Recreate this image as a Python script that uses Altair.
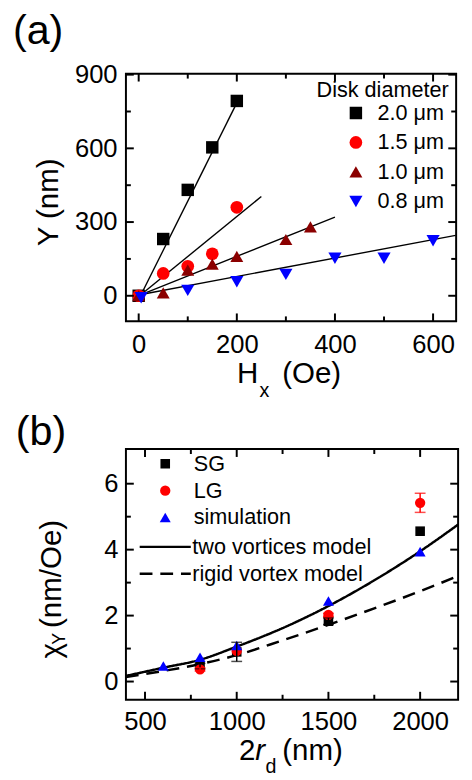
import altair as alt
import pandas as pd

FONT = "Liberation Sans"

# ---------------- panel (a) data ----------------
a_series = ["2.0 μm", "1.5 μm", "1.0 μm", "0.8 μm"]
a_colors = ["#000000", "#ff0000", "#8b0000", "#0000ff"]
a_shapes = ["square", "circle", "triangle-up", "triangle-down"]
a_msize = [160, 180, 230, 210]

a_hx_20 = [0, 50, 100, 150, 200]
a_y_20 = [0, 231, 431, 604, 793]
a_hx_15 = [0, 50, 100, 150, 200]
a_y_15 = [0, 91, 120, 171, 360]
a_hx_10 = [0, 50, 100, 150, 200, 300, 350]
a_y_10 = [0, 12, 104, 129, 160, 229, 280]
a_hx_08 = [5, 100, 200, 300, 400, 500, 600]
a_y_08 = [-8, 22, 57, 87, 153, 153, 224]

fit_x0 = [5, 5, 5, 5]
fit_y0 = [5, 5, 5, 5]
fit_x1 = [200, 250, 400, 646]
fit_y1 = [785, 404, 320, 246]

a_x_major = [0, 200, 400, 600]
a_x_minor = [100, 300, 500]
a_y_major = [0, 300, 600, 900]
a_y_minor = [150, 450, 750]

# ---------------- panel (b) data ----------------
b_series = ["SG", "LG", "simulation"]
b_colors = ["#000000", "#ff0000", "#0000ff"]
b_shapes = ["square", "circle", "triangle-up"]
b_msize = [95, 125, 190]

sg_d = [800, 1000, 1500, 2000]
sg_chi = [0.47, 0.90, 1.83, 4.56]
sg_err = [0.08, 0.29, 0.10, 0.0]
lg_d = [800, 1000, 1500, 2000]
lg_chi = [0.37, 0.93, 2.02, 5.42]
lg_err = [0.05, 0.0, 0.05, 0.29]
sim_d = [600, 800, 1000, 1500, 2000]
sim_chi = [0.47, 0.74, 1.09, 2.44, 3.94]

model_names = ["two vortices model", "rigid vortex model"]
model_d = [396, 600, 800, 1000, 1250, 1500, 1750, 2000, 2207]
two_vortices = [0.17, 0.42, 0.66, 1.06, 1.62, 2.29, 3.07, 3.95, 4.76]
rigid_vortex = [0.14, 0.32, 0.53, 0.80, 1.25, 1.72, 2.22, 2.74, 3.20]

b_x_major = [500, 1000, 1500, 2000]
b_x_minor = [750, 1250, 1750]
b_y_major = [0, 2, 4, 6]
b_y_minor = [1, 3, 5]

# ---------------- geometry ----------------
WA, HA = 336, 252
WB, HB = 338, 255


def axis(vals, pad):
    return alt.Axis(values=vals, title=None, labelFontSize=26, labelPadding=pad,
                    tickSize=0, tickWidth=0, domain=False, grid=False, format="d",
                    labelColor="black", labelFont=FONT)


def frame_ticks(xmaj, xmin, ymaj, ymin, sx, sy, axx, axy, W, H, L=8, l=5):
    layers = []
    for vals, ln in ((xmaj, L), (xmin, l)):
        base = alt.Chart(pd.DataFrame({"v": vals}))
        ex = alt.X("v:Q", scale=sx, axis=axx)
        layers.append(base.mark_rule(color="black", strokeWidth=2).encode(
            x=ex, y=alt.value(H), y2=alt.value(H - ln)))
        layers.append(base.mark_rule(color="black", strokeWidth=2).encode(
            x=ex, y=alt.value(0), y2=alt.value(ln)))
    for vals, ln in ((ymaj, L), (ymin, l)):
        base = alt.Chart(pd.DataFrame({"v": vals}))
        ey = alt.Y("v:Q", scale=sy, axis=axy)
        layers.append(base.mark_rule(color="black", strokeWidth=2).encode(
            y=ey, x=alt.value(0), x2=alt.value(ln)))
        layers.append(base.mark_rule(color="black", strokeWidth=2).encode(
            y=ey, x=alt.value(W), x2=alt.value(W - ln)))
    return layers


def label(text, x, y, size, angle=0, align="left", baseline="alphabetic", style="normal"):
    return alt.Chart(pd.DataFrame({"t": [text]})).mark_text(
        align=align, baseline=baseline, fontSize=size, font=FONT, angle=angle,
        fontStyle=style, color="black").encode(
        text="t:N", x=alt.value(x), y=alt.value(y))


# ---------------- panel (a) ----------------
sx_a = alt.Scale(domain=[-26, 647], nice=False, zero=False)
sy_a = alt.Scale(domain=[-104, 904], nice=False, zero=False)
ax_xa = axis(a_x_major, 11)
ax_ya = axis(a_y_major, 9)

rows = []
for name, xs, ys in zip(a_series, [a_hx_20, a_hx_15, a_hx_10, a_hx_08],
                        [a_y_20, a_y_15, a_y_10, a_y_08]):
    for xv, yv in zip(xs, ys):
        rows.append({"hx": xv, "y": yv, "d": name})
dfa = pd.DataFrame(rows)

fit_rows = []
for name, x0, y0, x1, y1 in zip(a_series, fit_x0, fit_y0, fit_x1, fit_y1):
    fit_rows.append({"hx": x0, "y": y0, "g": name})
    fit_rows.append({"hx": x1, "y": y1, "g": name})
dff = pd.DataFrame(fit_rows)

leg_a = alt.Legend(title="Disk diameter", orient="none", legendX=194, legendY=7,
                   titleFontSize=22, titleFontWeight="normal", titleFont=FONT,
                   titleColor="black", labelFontSize=22, labelFont=FONT,
                   labelColor="black", symbolSize=120, symbolOffset=29,
                   labelOffset=11, rowPadding=8, titlePadding=0, padding=0,
                   clipHeight=22, symbolStrokeWidth=0, labelLimit=0)

fits = alt.Chart(dff).mark_line(color="black", strokeWidth=1.4).encode(
    x=alt.X("hx:Q", scale=sx_a, axis=ax_xa),
    y=alt.Y("y:Q", scale=sy_a, axis=ax_ya),
    detail="g:N")

pts_a = alt.Chart(dfa).mark_point(filled=True, opacity=1).encode(
    x=alt.X("hx:Q", scale=sx_a, axis=ax_xa),
    y=alt.Y("y:Q", scale=sy_a, axis=ax_ya),
    color=alt.Color("d:N", scale=alt.Scale(domain=a_series, range=a_colors), legend=leg_a),
    shape=alt.Shape("d:N", scale=alt.Scale(domain=a_series, range=a_shapes), legend=leg_a),
    size=alt.Size("d:N", scale=alt.Scale(domain=a_series, range=a_msize), legend=None),
)

texts_a = [
    label("(a)", -115, -30, 42),
    label("Y (nm)", -69, 131, 30, angle=270, align="center"),
    label("H", 113, 315, 30),
    label("x", 136, 328.5, 20),
    label("(Oe)", 159, 315, 30),
]

panel_a = alt.layer(fits, pts_a,
                    *frame_ticks(a_x_major, a_x_minor, a_y_major, a_y_minor,
                                 sx_a, sy_a, ax_xa, ax_ya, WA, HA),
                    *texts_a).properties(width=WA, height=HA)

# ---------------- panel (b) ----------------
sx_b = alt.Scale(domain=[396, 2207], nice=False, zero=False)
sy_b = alt.Scale(domain=[-0.55, 7.05], nice=False, zero=False)
ax_xb = axis(b_x_major, 9)
ax_yb = axis(b_y_major, 8)

rows = []
for name, xs, ys in zip(b_series, [sg_d, lg_d, sim_d], [sg_chi, lg_chi, sim_chi]):
    for xv, yv in zip(xs, ys):
        rows.append({"d": xv, "chi": yv, "s": name})
dfb = pd.DataFrame(rows)

mrows = []
for name, ys in zip(model_names, [two_vortices, rigid_vortex]):
    for xv, yv in zip(model_d, ys):
        mrows.append({"d": xv, "chi": yv, "m": name})
dfm = pd.DataFrame(mrows)

leg_b_pts = alt.Legend(title=None, orient="none", legendX=14, legendY=4,
                       labelFontSize=22, labelFont=FONT, labelColor="black",
                       symbolSize=100, symbolOffset=15, labelOffset=18,
                       rowPadding=5.3, padding=0, clipHeight=22, symbolStrokeWidth=0,
                       labelLimit=0)
leg_b_lines = alt.Legend(title=None, orient="none", legendX=12.5, legendY=88.5,
                         labelFontSize=22, labelFont=FONT, labelColor="black",
                         symbolType="stroke", symbolSize=2704, symbolStrokeWidth=2.5,
                         symbolStrokeColor="black", symbolOffset=0, labelOffset=0,
                         rowPadding=5.3, padding=0, clipHeight=22, labelLimit=0)

curves = alt.Chart(dfm).mark_line(color="black", strokeWidth=2.5, interpolate="monotone").encode(
    x=alt.X("d:Q", scale=sx_b, axis=ax_xb),
    y=alt.Y("chi:Q", scale=sy_b, axis=ax_yb),
    strokeDash=alt.StrokeDash("m:N", scale=alt.Scale(domain=model_names, range=[[1, 0], [13, 8]]),
                              legend=leg_b_lines),
)

pts_b = alt.Chart(dfb).mark_point(filled=True, opacity=1).encode(
    x=alt.X("d:Q", scale=sx_b, axis=ax_xb),
    y=alt.Y("chi:Q", scale=sy_b, axis=ax_yb),
    color=alt.Color("s:N", scale=alt.Scale(domain=b_series, range=b_colors), legend=leg_b_pts),
    shape=alt.Shape("s:N", scale=alt.Scale(domain=b_series, range=b_shapes), legend=leg_b_pts),
    size=alt.Size("s:N", scale=alt.Scale(domain=b_series, range=b_msize), legend=None),
)

err_layers = []
for xs, ys, es, col in ((sg_d, sg_chi, sg_err, "black"), (lg_d, lg_chi, lg_err, "#ff0000")):
    er = [{"d": xv, "lo": yv - ev, "hi": yv + ev} for xv, yv, ev in zip(xs, ys, es) if ev > 0]
    dfe = pd.DataFrame(er)
    cap = pd.DataFrame([{"d": r["d"], "v": r["lo"]} for r in er] + [{"d": r["d"], "v": r["hi"]} for r in er])
    err_layers.append(alt.Chart(dfe).mark_rule(color=col, strokeWidth=1.5).encode(
        x=alt.X("d:Q", scale=sx_b, axis=ax_xb), y=alt.Y("lo:Q", scale=sy_b, axis=ax_yb), y2="hi:Q"))
    err_layers.append(alt.Chart(cap).mark_tick(color=col, orient="horizontal", size=11, thickness=1.5).encode(
        x=alt.X("d:Q", scale=sx_b, axis=ax_xb), y=alt.Y("v:Q", scale=sy_b, axis=ax_yb)))

texts_b = [
    label("(b)", -112, -3.7, 42),
    label("χ", -66, 213, 30, angle=270),
    label("Y", -62.3, 199, 18, angle=270),
    label("(nm/Oe)", -66, 182, 30, angle=270),
    label("2", 115, 316, 30),
    label("r", 131.7, 316, 30, style="italic"),
    label("d", 142, 330, 20),
    label("(nm)", 159, 316, 30),
]

panel_b = alt.layer(curves, pts_b, *err_layers,
                    *frame_ticks(b_x_major, b_x_minor, b_y_major, b_y_minor,
                                 sx_b, sy_b, ax_xb, ax_yb, WB, HB),
                    *texts_b).properties(width=WB, height=HB)

chart = alt.vconcat(panel_a, panel_b, spacing=9).resolve_scale(
    color="independent", shape="independent", size="independent",
    strokeDash="independent"
).resolve_legend(
    color="independent", shape="independent", strokeDash="independent"
).properties(
    padding={"left": 4, "top": -5, "right": 0, "bottom": 0}
).configure_view(stroke="black", strokeWidth=2)

chart.save("out.html", embed_options={"renderer": "svg", "actions": False})
